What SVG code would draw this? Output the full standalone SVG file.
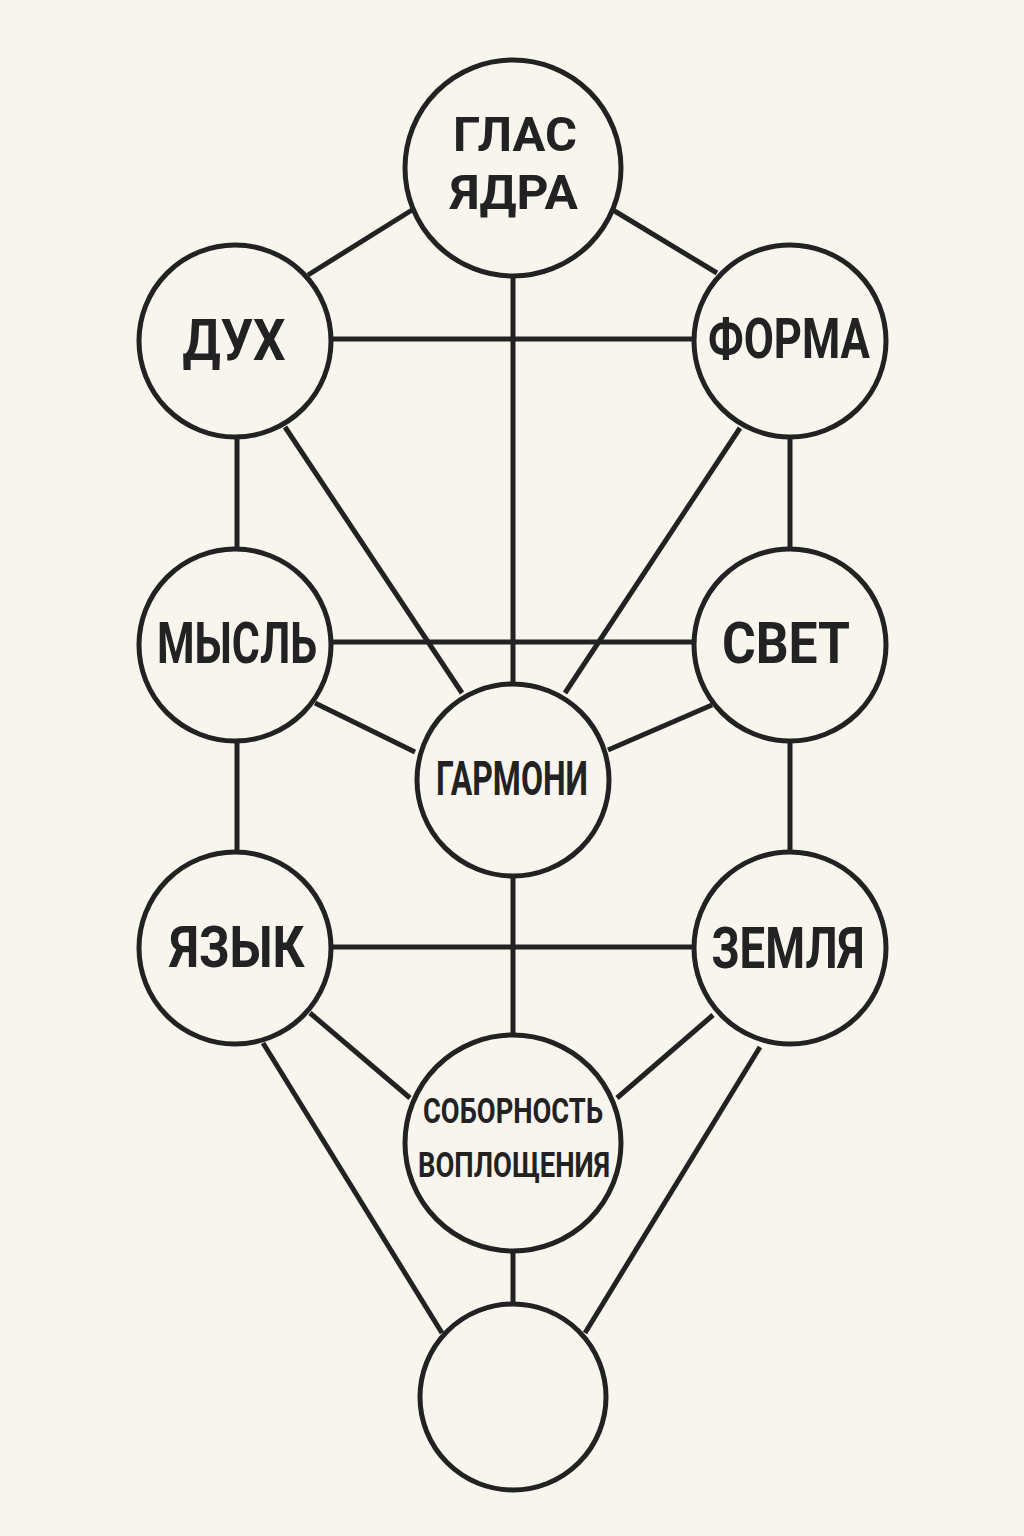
<svg xmlns="http://www.w3.org/2000/svg" width="1024" height="1536" viewBox="0 0 1024 1536">
<style>
.bg{fill:#f8f5ee}
.node circle{fill:#f8f5ee;stroke:#222;stroke-width:5}
.edges line{stroke:#222;stroke-width:5;stroke-linecap:butt}
.lbl{font-family:Roboto,"Liberation Sans",sans-serif;font-weight:bold;fill:#222;text-anchor:middle}
</style>
<rect class="bg" x="0" y="0" width="1024" height="1536"/>
<g class="edges">
<line x1="412" y1="210" x2="308" y2="275"/>
<line x1="613" y1="210" x2="717" y2="273"/>
<line x1="513" y1="270" x2="513" y2="690"/>
<line x1="330" y1="339" x2="695" y2="339"/>
<line x1="237" y1="435" x2="237" y2="550"/>
<line x1="790" y1="435" x2="790" y2="550"/>
<line x1="285" y1="427" x2="462" y2="693"/>
<line x1="740" y1="428" x2="565" y2="693"/>
<line x1="330" y1="642" x2="695" y2="642"/>
<line x1="315" y1="703" x2="415" y2="752"/>
<line x1="712" y1="705" x2="608" y2="750"/>
<line x1="237" y1="738" x2="237" y2="855"/>
<line x1="790" y1="738" x2="790" y2="855"/>
<line x1="330" y1="947" x2="695" y2="947"/>
<line x1="513" y1="872" x2="513" y2="1036"/>
<line x1="310" y1="1013" x2="410" y2="1098"/>
<line x1="713" y1="1015" x2="617" y2="1098"/>
<line x1="263" y1="1043" x2="442" y2="1333"/>
<line x1="760" y1="1047" x2="585" y2="1333"/>
<line x1="513" y1="1250" x2="513" y2="1305"/>
</g>
<g id="n-glas" class="node"><circle cx="513" cy="168" r="108"/>
<text class="lbl" font-size="49"><tspan x="515" y="151" textLength="124" lengthAdjust="spacingAndGlyphs">ГЛАС</tspan><tspan x="514" y="209" textLength="128" lengthAdjust="spacingAndGlyphs">ЯДРА</tspan></text></g>
<g id="n-duh" class="node"><circle cx="235" cy="341" r="96"/>
<text class="lbl" x="234" y="360" font-size="58" textLength="103" lengthAdjust="spacingAndGlyphs">ДУХ</text></g>
<g id="n-forma" class="node"><circle cx="790" cy="341" r="96"/>
<text class="lbl" x="789" y="358" font-size="55" textLength="162" lengthAdjust="spacingAndGlyphs">ФОРМА</text></g>
<g id="n-mysl" class="node"><circle cx="235" cy="645" r="96"/>
<text class="lbl" x="237" y="663" font-size="57" textLength="160" lengthAdjust="spacingAndGlyphs">МЫСЛЬ</text></g>
<g id="n-svet" class="node"><circle cx="790" cy="645" r="96"/>
<text class="lbl" x="786" y="663" font-size="57" textLength="128" lengthAdjust="spacingAndGlyphs">СВЕТ</text></g>
<g id="n-garmoni" class="node"><circle cx="513" cy="780" r="96"/>
<text class="lbl" x="512" y="795" font-size="49" textLength="152" lengthAdjust="spacingAndGlyphs">ГАРМОНИ</text></g>
<g id="n-yazyk" class="node"><circle cx="235" cy="948" r="96"/>
<text class="lbl" x="237" y="967" font-size="57" textLength="135" lengthAdjust="spacingAndGlyphs">ЯЗЫК</text></g>
<g id="n-zemlya" class="node"><circle cx="790" cy="948" r="96"/>
<text class="lbl" x="788" y="968" font-size="57" textLength="153" lengthAdjust="spacingAndGlyphs">ЗЕМЛЯ</text></g>
<g id="n-sobornost" class="node"><circle cx="513" cy="1143" r="108"/>
<text class="lbl" font-size="35"><tspan x="513" y="1123" textLength="180" lengthAdjust="spacingAndGlyphs">СОБОРНОСТЬ</tspan><tspan x="514" y="1177" textLength="192" lengthAdjust="spacingAndGlyphs">ВОПЛОЩЕНИЯ</tspan></text></g>
<g id="n-bottom" class="node"><circle cx="513" cy="1397" r="93"/></g>
</svg>
